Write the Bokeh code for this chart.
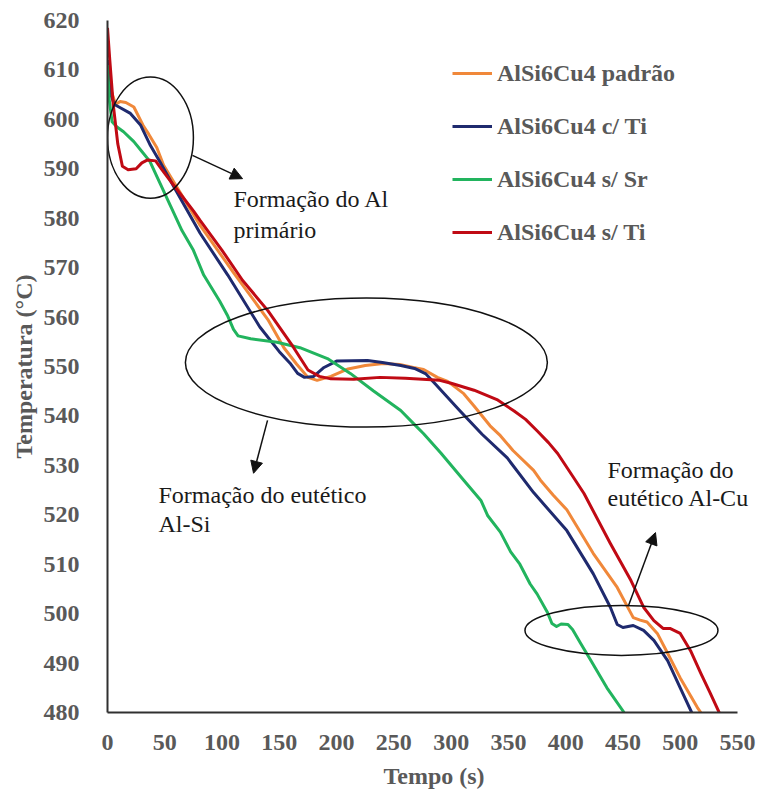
from bokeh.plotting import figure
from bokeh.models import Range1d, FixedTicker, Legend, LegendItem, Arrow, NormalHead, Label
from bokeh.embed import file_html
from bokeh.resources import INLINE

series_names = ["AlSi6Cu4 padrão", "AlSi6Cu4 c/ Ti", "AlSi6Cu4 s/ Sr", "AlSi6Cu4 s/ Ti"]
series_colors = ["#F0883A", "#1F2A6E", "#22B45E", "#C00A14"]

t_padrao = [0, 3, 7, 11, 16, 23, 31, 36, 43, 49, 60, 81, 110, 140, 154, 165, 175, 183, 195,
            210, 225, 241, 255, 267, 276, 288, 297, 311, 320, 334, 343, 354, 372, 378, 389,
            401, 424, 445, 459, 465, 471, 480, 489, 500, 515, 518]
T_padrao = [612, 606, 603, 603.6, 603.4, 602.5, 598.8, 597, 594.3, 590.7, 586.5, 578.5, 569,
            559.5, 553.8, 550.5, 547.8, 547.2, 548, 549.5, 550.2, 550.6, 550.4, 549.8, 549.4,
            547.8, 547, 544.5, 542, 538, 536, 533, 529, 527, 524, 521, 512.2, 505.3, 499.2,
            498.7, 498.3, 496, 492, 487, 481, 480]

t_cti = [0, 3, 6, 10, 20, 29, 37.5, 46, 60, 81, 105, 133, 150, 160, 166, 172, 180, 189, 200,
         227, 240, 256, 268, 278, 286, 296, 307, 327, 349, 372, 401, 424, 439, 445, 450, 459,
         468, 477, 489, 500, 510]
T_cti = [612, 605, 603, 602.5, 601.2, 598.8, 594.7, 591.3, 585.5, 576.9, 568.5, 558, 553,
         550.5, 548.6, 547.8, 548, 549.8, 551.1, 551.2, 550.8, 550.2, 549.6, 548.5, 546.5,
         544, 541.2, 536.3, 531.5, 524.5, 516.8, 508.1, 501.3, 497.8, 497.2, 497.6, 496.6,
         494.6, 490.5, 485, 480]

t_ssr = [0, 1.5, 4, 8, 14, 23, 30, 37, 46, 55, 65, 75, 84, 98, 105, 110, 114, 125, 148, 168,
         192, 212, 232, 256, 267, 276, 291, 311, 326, 332, 343, 352, 360, 369, 375, 384, 388,
         392, 396, 402, 406, 413, 422, 436, 451]
T_ssr = [611, 604, 599.5, 598.5, 597.5, 595.5, 593.5, 591.5, 587, 582.5, 577.5, 573.5, 568.5,
         563.2, 560.2, 557.5, 556.2, 555.6, 554.9, 553.8, 551.6, 548.6, 545.1, 541.1, 538.5,
         536.4, 532.5, 527, 522.9, 519.8, 516.5, 512.5, 510, 506, 504, 500.3, 498, 497.4,
         497.9, 497.8, 496.8, 494, 490.5, 485, 480]

t_sti = [0, 2, 5, 9, 13, 18, 25, 30, 35, 42, 47, 55, 65, 75, 81, 100, 118, 140, 162, 175, 185,
         195, 215, 238, 260, 275, 290, 300, 320, 340, 355, 365, 375, 385, 393, 407, 416, 439,
         457, 468, 477, 485, 491, 500, 509, 518, 526, 534]
T_sti = [618.5, 612, 603, 595, 590.5, 589.8, 590, 591.2, 591.8, 591.6, 590, 587.5, 584.5,
         581.5, 579.5, 573.5, 567.4, 561.3, 554, 549.3, 548, 547.5, 547.4, 547.8, 547.6,
         547.4, 547.2, 546.6, 545.2, 543.3, 541, 539.3, 537, 534.6, 532.4, 527.5, 524.3,
         514.2, 506.7, 501.3, 498.6, 497, 497, 496, 492.5, 487.9, 484, 480]

x_ticks = [0, 50, 100, 150, 200, 250, 300, 350, 400, 450, 500, 550]
y_ticks = [480, 490, 500, 510, 520, 530, 540, 550, 560, 570, 580, 590, 600, 610, 620]

SERIF = "Liberation Serif"
GREY = "#595959"

# frame spans 653 px; axis (0..550) covers the first 630 px, leaving room for the right-hand note
p = figure(width=762, height=794, output_backend="svg", toolbar_location=None,
           x_range=Range1d(0, 550 * 653 / 630), y_range=Range1d(480, 620),
           min_border_left=107, min_border_right=2, min_border_top=20, min_border_bottom=82)
p.outline_line_color = None
p.xgrid.grid_line_color = None
p.ygrid.grid_line_color = None
p.background_fill_color = "white"

for ax, ticks in ((p.xaxis, x_ticks), (p.yaxis, y_ticks)):
    ax.ticker = FixedTicker(ticks=ticks)
    ax.major_tick_line_color = None
    ax.minor_tick_line_color = None
    ax.axis_line_color = "#303030"
    ax.axis_line_width = 2
    ax.major_label_text_font = SERIF
    ax.major_label_text_font_style = "bold"
    ax.major_label_text_font_size = "24px"
    ax.major_label_text_color = GREY
    ax.axis_label_text_font = SERIF
    ax.axis_label_text_font_style = "bold"
    ax.axis_label_text_font_size = "24px"
    ax.axis_label_text_color = GREY

p.xaxis.bounds = (0, 550)
p.xaxis.axis_label = "Tempo (s)"
p.yaxis.axis_label = "Temperatura (°C)"
p.xaxis.major_label_standoff = 16
p.xaxis.axis_label_standoff = 10
p.yaxis.major_label_standoff = 22
p.yaxis.axis_label_standoff = 4

data = [(t_padrao, T_padrao), (t_cti, T_cti), (t_ssr, T_ssr), (t_sti, T_sti)]
renderers = []
for (tx, ty), c in zip(data, series_colors):
    r = p.line(tx, ty, line_color=c, line_width=3, line_join="round")
    renderers.append(r)

legend = Legend(items=[LegendItem(label=n, renderers=[r]) for n, r in zip(series_names, renderers)],
                location=(345, 466), orientation="vertical",
                glyph_width=40, glyph_height=28, label_height=28, label_standoff=5,
                spacing=25, padding=0, margin=0,
                border_line_color=None, background_fill_alpha=0,
                label_text_font=SERIF, label_text_font_style="bold",
                label_text_font_size="24px", label_text_color=GREY)
p.add_layout(legend, "center")

# Annotation ellipses
p.ellipse(x=[37.5, 226, 448.7], y=[596.3, 550.8, 496.6], width=[75, 316, 168.5],
          height=[24.5, 26.1, 10.1], fill_color=None, line_color="#111111", line_width=1.5)

for xs, ys, xe, ye in [(74.2, 592.7, 117.9, 588.0), (139.7, 539.1, 127.5, 528.4),
                       (454.8, 501.6, 478.4, 516.4)]:
    p.add_layout(Arrow(end=NormalHead(size=12, fill_color="#111111", line_color="#111111"),
                       x_start=xs, y_start=ys, x_end=xe, y_end=ye,
                       line_color="#111111", line_width=1.5))

ann_x = [110, 110, 44.5, 44.5, 436.5, 436.5]
ann_y = [583.8, 577.7, 524.1, 518.2, 529.0, 523.3]
ann_t = ["Formação do Al", "primário", "Formação do eutético", "Al-Si", "Formação do", "eutético Al-Cu"]
for ax_, ay_, at_ in zip(ann_x, ann_y, ann_t):
    p.add_layout(Label(x=ax_, y=ay_, text=at_, text_font=SERIF, text_font_size="24px",
                       text_color="#1a1a1a", text_baseline="middle", text_align="left"))

open("out.html", "w").write(file_html(p, INLINE))
